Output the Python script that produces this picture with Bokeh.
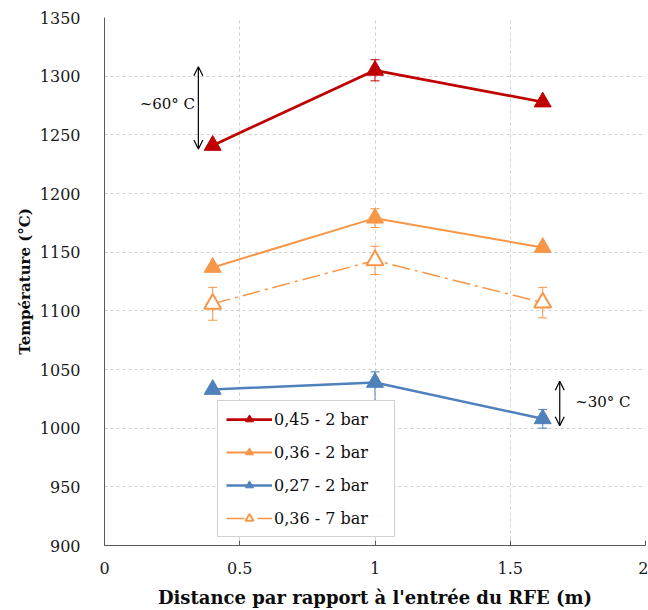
from bokeh.plotting import figure
from bokeh.models import (ColumnDataSource, Whisker, TeeHead, Arrow, OpenHead, Label,
                          FixedTicker, Legend, LegendItem, Range1d)
from bokeh.embed import file_html
from bokeh.resources import INLINE

# ---- data ----
distance = [0.40, 1.00, 1.62]
series_names = ["0,45 - 2 bar", "0,36 - 2 bar", "0,27 - 2 bar", "0,36 - 7 bar"]
t_045_2bar = [1241, 1305, 1278]
t_036_2bar = [1137, 1179, 1154]
t_027_2bar = [1033, 1039, 1008]
t_036_7bar = [1106, 1143, 1107]
err_045_2bar_hi = [1241, 1314, 1278]
err_045_2bar_lo = [1241, 1296, 1278]
err_036_2bar_hi = [1137, 1187, 1154]
err_036_2bar_lo = [1137, 1171, 1154]
err_027_2bar_hi = [1033, 1048, 1016]
err_027_2bar_lo = [1033, 1023, 1000]
err_036_7bar_hi = [1120, 1155, 1120]
err_036_7bar_lo = [1092, 1131, 1094]
x_ticks = [0, 0.5, 1, 1.5, 2]
x_tick_labels = ["0", "0.5", "1", "1.5", "2"]
y_ticks = [900, 950, 1000, 1050, 1100, 1150, 1200, 1250, 1300, 1350]

FONT = "DejaVu Serif"
RED = "#C00000"
ORANGE = "#F79646"
BLUE = "#4F81BD"

p = figure(width=648, height=610, output_backend="svg", toolbar_location=None,
           x_range=Range1d(0, 2), y_range=Range1d(900, 1350),
           min_border_left=104, min_border_right=3, min_border_top=17, min_border_bottom=65)
p.outline_line_color = None
p.background_fill_color = "white"

# axes
p.xaxis.ticker = FixedTicker(ticks=x_ticks)
p.xaxis.major_label_overrides = {t: l for t, l in zip(x_ticks, x_tick_labels)}
p.yaxis.ticker = FixedTicker(ticks=y_ticks)
for ax in (p.xaxis, p.yaxis):
    ax.axis_line_color = "#595959"
    ax.axis_line_width = 1
    ax.major_label_text_font = FONT
    ax.major_label_text_font_size = "16px"
    ax.major_label_text_color = "#1a1a1a"
    ax.axis_label_text_font = FONT
    ax.axis_label_text_font_style = "bold"
    ax.axis_label_text_color = "#0d0d0d"
    ax.minor_tick_line_color = None
p.xaxis.axis_label_text_font_size = "18px"
p.yaxis.axis_label_text_font_size = "15px"
p.xaxis.major_tick_in = 5
p.xaxis.major_tick_out = 0
p.xaxis.major_tick_line_color = "#595959"
p.yaxis.major_tick_line_color = None
p.xaxis.major_label_standoff = 16
p.yaxis.major_label_standoff = 18
p.xaxis.axis_label = "Distance par rapport à l'entrée du RFE (m)"
p.yaxis.axis_label = "Température (°C)"
p.xaxis.axis_label_standoff = 10
p.yaxis.axis_label_standoff = 3

for g in (p.xgrid, p.ygrid):
    g.grid_line_color = "#d0d0d0"
    g.grid_line_dash = "3 3"
    g.grid_line_width = 1

# error bars
def add_err(hi, lo, color):
    src = ColumnDataSource(dict(x=distance, hi=hi, lo=lo))
    w = Whisker(base="x", upper="hi", lower="lo", source=src, dimension="height",
                line_color=color, line_width=1,
                upper_head=TeeHead(size=9, line_color=color, line_width=1),
                lower_head=TeeHead(size=9, line_color=color, line_width=1))
    p.add_layout(w)

add_err(err_045_2bar_hi, err_045_2bar_lo, RED)
add_err(err_036_2bar_hi, err_036_2bar_lo, ORANGE)
add_err(err_027_2bar_hi, err_027_2bar_lo, BLUE)
add_err(err_036_7bar_hi, err_036_7bar_lo, ORANGE)

items = []
def add_series(y, color, name, width, dash="solid", filled=True):
    l = p.line(distance, y, line_color=color, line_width=width, line_dash=dash)
    s = p.scatter(distance, y, marker="triangle", size=17,
                  fill_color=color if filled else "white",
                  line_color=color, line_width=2 if not filled else 1)
    items.append(LegendItem(label=name, renderers=[l, s]))

add_series(t_045_2bar, RED, series_names[0], 2.75)
add_series(t_036_2bar, ORANGE, series_names[1], 2)
add_series(t_027_2bar, BLUE, series_names[2], 2.5)
add_series(t_036_7bar, ORANGE, series_names[3], 1.5, dash="18 5 3 5", filled=False)

legend = Legend(items=items, location=(113, 8),
                label_text_font=FONT, label_text_font_size="16px",
                label_text_color="#0d0d0d",
                glyph_width=46, glyph_height=20, label_height=20, label_width=112,
                label_standoff=2, spacing=13, padding=8, margin=0,
                border_line_color="#a6a6a6", border_line_width=1,
                background_fill_color="white", background_fill_alpha=1)
p.add_layout(legend, "center")

# annotations
arrow60 = dict(x=0.347, y0=1308, y1=1238)
arrow30 = dict(x=1.683, y0=1040, y1=1002)
for a in (arrow60, arrow30):
    p.add_layout(Arrow(x_start=a["x"], y_start=a["y0"], x_end=a["x"], y_end=a["y1"],
                       start=OpenHead(size=9, line_width=1.2, line_color="black"),
                       end=OpenHead(size=9, line_width=1.2, line_color="black"),
                       line_width=1.2, line_color="black"))
p.add_layout(Label(x=0.13, y=1276, text="~60° C", text_font=FONT, text_font_size="15px",
                   text_baseline="middle", text_color="#0d0d0d"))
p.add_layout(Label(x=1.74, y=1022, text="~30° C", text_font=FONT, text_font_size="15px",
                   text_baseline="middle", text_color="#0d0d0d"))

open("out.html", "w").write(file_html(p, INLINE))
